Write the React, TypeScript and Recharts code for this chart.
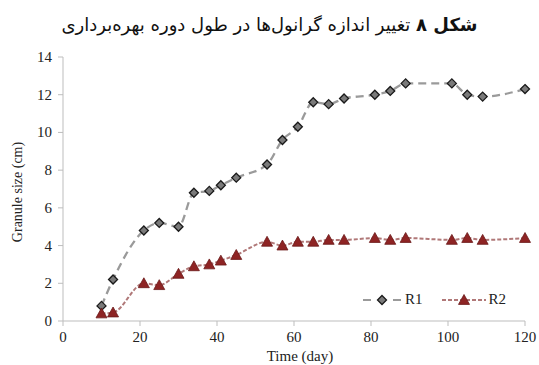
import { Line, LineChart, XAxis, YAxis } from "recharts";

const days = [10, 13, 21, 25, 30, 34, 38, 41, 45, 53, 57, 61, 65, 69, 73, 81, 85, 89, 101, 105, 109, 120];
const r1 = [0.8, 2.2, 4.8, 5.2, 5.0, 6.8, 6.9, 7.2, 7.6, 8.3, 9.6, 10.3, 11.6, 11.5, 11.8, 12.0, 12.2, 12.6, 12.6, 12.0, 11.9, 12.3];
const r2 = [0.4, 0.45, 2.0, 1.9, 2.5, 2.9, 3.0, 3.2, 3.5, 4.2, 4.0, 4.2, 4.2, 4.3, 4.3, 4.4, 4.3, 4.4, 4.3, 4.4, 4.3, 4.4];
const xTicks = [0, 20, 40, 60, 80, 100, 120];
const yTicks = [0, 2, 4, 6, 8, 10, 12, 14];

const data = days.map((d, i) => ({ day: d, R1: r1[i], R2: r2[i] }));

const serif = "'Liberation Serif', 'Times New Roman', serif";
const R1_LINE = "#9a9a9a";
const R2_LINE = "#b07878";

function Diamond(props: any) {
  const { cx, cy } = props;
  if (cx == null || cy == null) return null;
  const r = 4.5;
  return (
    <polygon
      points={`${cx},${cy - r} ${cx + r},${cy} ${cx},${cy + r} ${cx - r},${cy}`}
      fill="#7a7a7a"
      stroke="#1a1a1a"
      strokeWidth={1.3}
    />
  );
}

function Triangle(props: any) {
  const { cx, cy } = props;
  if (cx == null || cy == null) return null;
  const r = 5.5;
  return (
    <polygon
      points={`${cx},${cy - r} ${cx + r},${cy + r * 0.8} ${cx - r},${cy + r * 0.8}`}
      fill="#8e2424"
      stroke="#6a1818"
      strokeWidth={0.8}
    />
  );
}

function XTick(props: any) {
  const { x, y, payload } = props;
  return (
    <text x={x} y={y + 12} textAnchor="middle" fontFamily={serif} fontSize={15} fill="#222">
      {payload.value}
    </text>
  );
}

function YTick(props: any) {
  const { x, y, payload } = props;
  return (
    <text x={x} y={y + 5} textAnchor="end" fontFamily={serif} fontSize={15} fill="#222">
      {payload.value}
    </text>
  );
}

function LegendBox() {
  return (
    <div
      style={{
        position: "absolute",
        left: 362,
        top: 291,
        display: "flex",
        alignItems: "center",
        fontFamily: serif,
        fontSize: 15,
        color: "#222",
      }}
    >
      <svg width={40} height={12}>
        <line x1={1} y1={6} x2={39} y2={6} stroke={R1_LINE} strokeWidth={2.2} strokeDasharray="8 7" />
        <Diamond cx={20} cy={6} />
      </svg>
      <span style={{ marginLeft: 3, marginRight: 18, fontFamily: serif }}>R1</span>
      <svg width={46} height={12}>
        <line x1={1} y1={6} x2={45} y2={6} stroke={R2_LINE} strokeWidth={2} strokeDasharray="4 2" />
        <Triangle cx={23} cy={6} />
      </svg>
      <span style={{ marginLeft: 2, fontFamily: serif }}>R2</span>
    </div>
  );
}

export default function App() {
  return (
    <div
      style={{
        position: "absolute",
        left: 0,
        top: 0,
        width: 539,
        height: 365,
        background: "#fff",
        fontFamily: serif,
      }}
    >
      <div
        dir="rtl"
        style={{
          position: "absolute",
          top: 14,
          left: 0,
          width: 539,
          textAlign: "center",
          fontFamily: "'DejaVu Sans', sans-serif",
          fontSize: 18,
          color: "#111",
        }}
      >
        <b>شکل ۸</b> تغییر اندازه گرانول‌ها در طول دوره بهره‌برداری
      </div>
      <LineChart
        width={539}
        height={365}
        data={data}
        margin={{ top: 57, right: 14, bottom: 14, left: 23 }}
      >
        <XAxis
          dataKey="day"
          type="number"
          domain={[0, 120]}
          ticks={xTicks}
          height={30}
          tickSize={5}
          tickMargin={4}
          stroke="#bdbdbd"
          tick={<XTick />}
          label={({ viewBox }: any) => (
            <text
              x={viewBox.x + viewBox.width / 2 + 6}
              y={361}
              textAnchor="middle"
              fontFamily={serif}
              fontSize={15}
              fill="#222"
            >
              Time (day)
            </text>
          )}
        />
        <YAxis
          type="number"
          domain={[0, 14]}
          ticks={yTicks}
          width={40}
          tickSize={5}
          tickMargin={6}
          stroke="#bdbdbd"
          tick={<YTick />}
          label={({ viewBox }: any) => {
            const cx = 19;
            const cy = viewBox.y + viewBox.height / 2 + 3;
            return (
              <text
                x={cx}
                y={cy}
                transform={`rotate(-90, ${cx}, ${cy})`}
                textAnchor="middle"
                dominantBaseline="middle"
                fontFamily={serif}
                fontSize={14}
                fill="#222"
              >
                Granule size (cm)
              </text>
            );
          }}
        />
        <Line
          dataKey="R1"
          type="monotone"
          stroke={R1_LINE}
          strokeWidth={2.3}
          strokeDasharray="8 5"
          dot={<Diamond />}
          isAnimationActive={false}
        />
        <Line
          dataKey="R2"
          type="monotone"
          stroke={R2_LINE}
          strokeWidth={2}
          strokeDasharray="4 2"
          dot={<Triangle />}
          isAnimationActive={false}
        />
      </LineChart>
      <LegendBox />
    </div>
  );
}
